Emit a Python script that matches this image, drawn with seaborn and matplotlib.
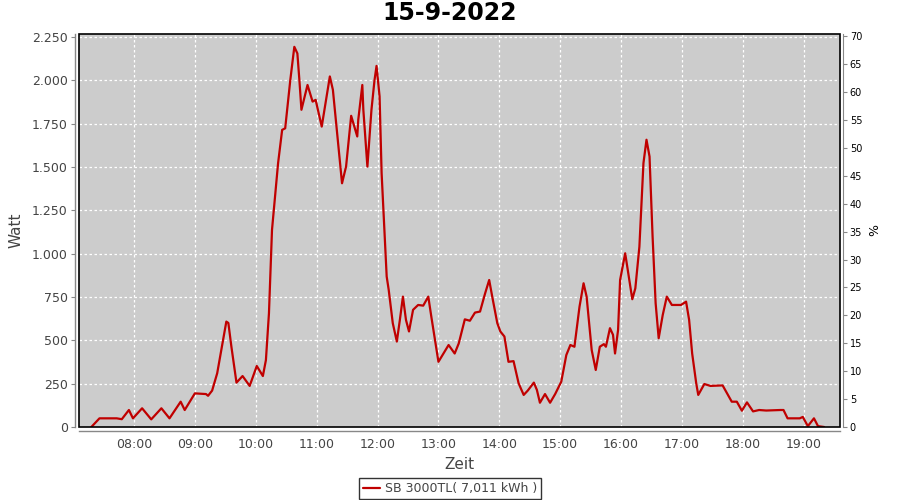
import pandas as pd
import matplotlib
matplotlib.use("Agg")
import matplotlib.pyplot as plt
import matplotlib.dates as mdates
from matplotlib.ticker import FuncFormatter, MultipleLocator
from matplotlib.patches import Rectangle
import seaborn as sns

# Data (time of day, watt)
times = [
    "07:18", "07:26", "07:43", "07:48", "07:55", "07:59", "08:08", "08:17", "08:27", "08:35",
    "08:46", "08:50", "09:00", "09:11", "09:13", "09:17", "09:22", "09:26", "09:31", "09:33",
    "09:36", "09:41", "09:47", "09:54", "10:01", "10:07", "10:10", "10:13", "10:16", "10:19",
    "10:22", "10:26", "10:29", "10:34", "10:38", "10:41", "10:43", "10:45", "10:51", "10:56",
    "10:59", "11:05", "11:13", "11:16", "11:25", "11:29", "11:34", "11:40", "11:41", "11:45",
    "11:46", "11:50", "11:54", "11:57", "11:59", "12:02", "12:04", "12:07", "12:09", "12:11",
    "12:15", "12:19", "12:22", "12:25", "12:28", "12:31", "12:35", "12:40", "12:45", "12:50",
    "12:53", "13:00", "13:05", "13:10", "13:16", "13:20", "13:26", "13:31", "13:36", "13:41",
    "13:46", "13:50", "13:53", "13:58", "14:01", "14:05", "14:09", "14:14", "14:19", "14:24",
    "14:28", "14:34", "14:37", "14:40", "14:45", "14:50", "14:55", "15:01", "15:06", "15:10",
    "15:14", "15:19", "15:23", "15:26", "15:31", "15:35", "15:39", "15:43", "15:45", "15:49",
    "15:52", "15:54", "15:57", "15:59", "16:04", "16:07", "16:11", "16:14", "16:18", "16:22",
    "16:25", "16:28", "16:31", "16:34", "16:37", "16:41", "16:45", "16:50", "16:59", "17:04",
    "17:07", "17:10", "17:14", "17:16", "17:22", "17:28", "17:40", "17:49", "17:54", "17:59",
    "18:04", "18:10", "18:16", "18:23", "18:37", "18:40", "18:44", "18:56", "18:59", "19:04",
    "19:10", "19:14", "19:20",
]
watt = [
    0, 50, 50, 45, 98, 50, 108, 44, 108, 50,
    146, 98, 194, 190, 180, 210, 310, 444, 608, 600,
    463, 256, 294, 237, 352, 294, 386, 656, 1137, 1329,
    1522, 1714, 1723, 2000, 2193, 2155, 2000, 1830, 1973, 1877,
    1887, 1733, 2022, 1945, 1406, 1503, 1795, 1676, 1772, 1973,
    1830, 1502, 1830, 2000, 2083, 1907, 1465, 1099, 868, 791,
    599, 493, 618, 752, 618, 551, 676, 704, 700, 752,
    636, 376, 424, 473, 424, 482, 621, 613, 660, 666,
    771, 848, 752, 599, 551, 522, 376, 380, 252, 185,
    210, 256, 214, 140, 190, 140, 190, 261, 415, 473,
    463, 694, 829, 752, 444, 329, 463, 478, 463, 570,
    532, 424, 560, 848, 1002, 887, 737, 800, 1040, 1522,
    1657, 1560, 1099, 714, 512, 646, 752, 704, 704, 723,
    618, 424, 252, 185, 248, 237, 240, 146, 146, 94,
    142, 90, 98, 95, 98, 98, 50, 50, 58, 5,
    50, 5, 0,
]
day = "2022-09-15"
series_name = "SB 3000TL( 7,011 kWh )"

df = pd.DataFrame({"Zeit": pd.to_datetime([f"{day} {t}" for t in times]), "Watt": watt})

sns.set_style("white")
plt.rcParams["font.family"] = ["DejaVu Sans"]

text_col = "#444444"
axis_col = "#888888"

fig = plt.figure(figsize=(9, 5), dpi=100)
ax = fig.add_axes([79 / 900, 1 - 427 / 500, (840 - 79) / 900, (427 - 34) / 500])
ax.set_facecolor("#CCCCCC")

sns.lineplot(data=df, x="Zeit", y="Watt", ax=ax, color="#C00000", linewidth=1.6,
             label=series_name, legend=False)

ax.set_xlim(pd.Timestamp(f"{day} 07:05:50"), pd.Timestamp(f"{day} 19:35:40"))
ax.set_ylim(0, 2267)
ax.yaxis.set_major_locator(MultipleLocator(250))
ax.yaxis.set_major_formatter(FuncFormatter(lambda v, p: f"{int(v):,}".replace(",", ".")))
ax.xaxis.set_major_locator(mdates.HourLocator())
ax.xaxis.set_major_formatter(mdates.DateFormatter("%H:%M"))

ax.grid(True, color="white", linestyle=(0, (2, 2)), linewidth=0.9)
ax.tick_params(axis="both", length=3, width=0.8, color=axis_col, labelcolor=text_col,
               labelsize=9, pad=2)

for side in ["left", "bottom"]:
    ax.spines[side].set_position(("outward", 3))
    ax.spines[side].set_color(axis_col)
    ax.spines[side].set_linewidth(1)
for side in ["top", "right"]:
    ax.spines[side].set_visible(False)

# black plot border
ax.add_patch(Rectangle((0, 0), 1, 1, transform=ax.transAxes, fill=False,
                       edgecolor="black", linewidth=1.2, clip_on=False, zorder=5))

ax.set_xlabel("Zeit", fontsize=11, color=text_col, labelpad=4)
ax.set_ylabel("Watt", fontsize=11, color=text_col, labelpad=6)

# right axis in percent
ax2 = ax.twinx()
ax2.set_ylim(0, 70.4)
ax2.yaxis.set_major_locator(MultipleLocator(5))
ax2.tick_params(axis="y", length=3, width=0.8, color=axis_col, labelcolor="black",
                labelsize=7, pad=2)
for side in ["left", "top", "bottom"]:
    ax2.spines[side].set_visible(False)
ax2.spines["right"].set_position(("outward", 2))
ax2.spines["right"].set_color(axis_col)
ax2.set_ylabel("%", fontsize=9, color="black", labelpad=4)
ax2.grid(False)

fig.text(0.5, 1 - 13 / 500, "15-9-2022", fontsize=17, fontweight="bold", color="black",
         ha="center", va="center")

leg = fig.legend(loc="lower center", bbox_to_anchor=(0.5, -0.01), frameon=True, fancybox=False,
                 edgecolor="black", fontsize=9, handlelength=1.4, handletextpad=0.4,
                 borderpad=0.3, labelcolor=text_col)
leg.get_frame().set_linewidth(1)

fig.savefig("out.png", dpi=100)
